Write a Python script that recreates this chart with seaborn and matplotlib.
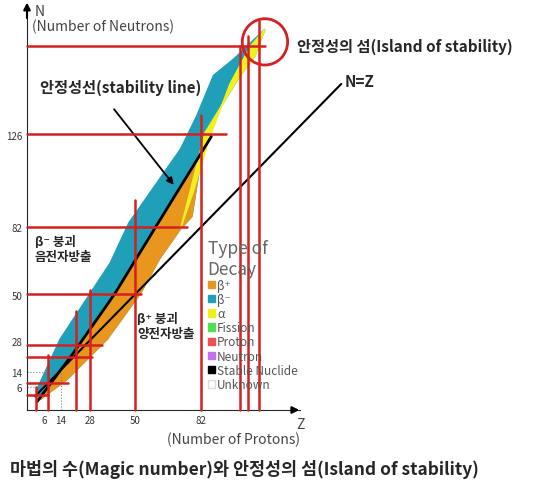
import numpy as np
import matplotlib
matplotlib.use("Agg")
import matplotlib.pyplot as plt
import seaborn as sns
from matplotlib.patches import Circle, Patch

sns.set_style("white")
plt.rcParams["font.family"] = ["Noto Sans CJK KR", "DejaVu Sans"]

# 핵종 띠 경계
upper_z = [2.5, 13.6, 38, 47, 72, 80, 88, 98, 113]
upper_n = [5, 28.6, 65, 84, 119, 135, 154, 162, 176]
lower_z = [4, 17, 36.5, 53, 62, 72, 77.6, 84, 101, 108, 113]
lower_n = [0, 9.5, 28.6, 51, 67, 81, 87, 127, 154, 163, 176]
stab_z = [2.5, 20, 40, 60, 87]
stab_n = [-1, 22, 50, 82, 125]
alpha_z = [72, 84, 101, 108, 113, 106, 96, 86, 78]
alpha_n = [81, 127, 154, 163, 176, 168, 150, 124, 98]

# 마법수 격자선 (빨간선)
h_n = [2, 8, 20, 26, 50, 82, 126, 168]
h_end = [8, 17.6, 29, 34, 53, 75, 94, 113]
v_z = [2, 8, 21.5, 28, 50, 82, 101, 105, 110]
v_top = [6, 21, 42, 52, 95, 135, 168, 173, 180]

tick_pos_z = [5.85, 14, 28, 50, 82]
tick_lab = ["6", "14", "28", "50", "82"]
tick_pos_n = [5.7, 13.3, 27.6, 49.5, 82, 125.7]
tick_lab_n = ["6", "14", "28", "50", "82", "126"]

decay_labels = ["β⁺", "β⁻", "α", "Fission", "Proton", "Neutron", "Stable Nuclide", "Unknown"]
decay_colors = ["#e8961e", "#1f9fb8", "#f0f020", "#50e050", "#f05050", "#c070f0", "#000000", "#ffffff"]

fig = plt.figure(figsize=(5.5, 4.85), dpi=100)
ax = fig.add_axes([27/550, 74/485, 273/550, 406/485])
ax.set_xlim(-2.4, 130)
ax.set_ylim(-5, 188)
for s in ["top", "right"]:
    ax.spines[s].set_visible(False)

# 띠: 파랑 전체 → 주황(안정선 아래) → 노랑(무거운 영역)
band = np.concatenate([np.column_stack([upper_z, upper_n]),
                       np.column_stack([lower_z, lower_n])[::-1]])
ax.fill(band[:, 0], band[:, 1], color=decay_colors[1], zorder=1)
lower_part = np.concatenate([np.column_stack([stab_z, stab_n]),
                             np.column_stack([lower_z[:8], lower_n[:8]])[::-1]])
ax.fill(lower_part[:, 0], lower_part[:, 1], color=decay_colors[0], zorder=2)
ax.fill(alpha_z, alpha_n, color=decay_colors[2], zorder=2)
ax.plot(stab_z, stab_n, color="black", lw=2, zorder=3)

# N=Z 선
ax.plot([1.5, 150], [1.5, 150], color="black", lw=1.5, clip_on=False, zorder=3)

for n, e in zip(h_n, h_end):
    ax.plot([-2.4, e], [n, n], color="#d42020", lw=1.8, zorder=4, clip_on=False)
for z, t in zip(v_z, v_top):
    ax.plot([z, z], [-5, t], color="#d42020", lw=1.8, zorder=4, clip_on=False)
ax.plot([-2.4, 14], [13.3, 13.3], ls=":", color="gray", lw=0.8)
ax.plot([14, 14], [-5, 13.3], ls=":", color="gray", lw=0.8)
ax.plot([-2.4, 5.85], [5.7, 5.7], ls=":", color="gray", lw=0.8)
ax.add_patch(Circle((113, 170), 11, fill=False, ec="#d42020", lw=2, clip_on=False, zorder=5))

ax.set_xticks(tick_pos_z, tick_lab, fontsize=7, color="#333")
ax.set_yticks(tick_pos_n, tick_lab_n, fontsize=7, color="#333")
ax.tick_params(length=0)
ax.annotate("", xy=(131, -5), xytext=(125, -5),
            arrowprops=dict(arrowstyle="-|>", color="black", lw=1.5), annotation_clip=False)
ax.annotate("", xy=(-2.4, 190), xytext=(-2.4, 180),
            arrowprops=dict(arrowstyle="-|>", color="black", lw=1.5), annotation_clip=False)

fig.text(35/550, 1-12/485, "N", fontsize=10, color="#444", va="center")
fig.text(32/550, 1-27/485, "(Number of Neutrons)", fontsize=10, color="#444", va="center")
fig.text(296/550, 1-425/485, "Z", fontsize=10, color="#444", va="center")
fig.text(300/550, 1-440/485, "(Number of Protons)", fontsize=10, color="#444", va="center", ha="right")
fig.text(297/550, 1-47/485, "안정성의 섬(Island of stability)", fontsize=11, weight="bold", va="center")
fig.text(345/550, 1-82/485, "N=Z", fontsize=11, weight="bold", va="center")
fig.text(40/550, 1-88/485, "안정성선(stability line)", fontsize=11, weight="bold", va="center")
fig.text(35/550, 1-250/485, "β⁻ 붕괴\n음전자방출", fontsize=9, weight="bold", va="center", linespacing=1.2)
fig.text(137/550, 1-327/485, "β⁺ 붕괴\n양전자방출", fontsize=9, weight="bold", va="center", linespacing=1.2)
fig.text(10/550, 1-470/485, "마법의 수(Magic number)와 안정성의 섬(Island of stability)",
         fontsize=12.5, weight="bold", va="center")
ax.annotate("", xy=(69.6, 101), xytext=(39, 139),
            arrowprops=dict(arrowstyle="-|>", color="black", lw=1.3))

handles = [Patch(fc=c, ec="#ddd" if c == "#ffffff" else c) for c in decay_colors]
leg = ax.legend(handles, decay_labels, title="Type of\nDecay", loc="upper left",
                bbox_to_anchor=(203/550, 1-235/485), bbox_transform=fig.transFigure,
                frameon=False, fontsize=8.5, handlelength=0.6, handleheight=0.6,
                handletextpad=0.2, labelspacing=0.1, borderaxespad=0, labelcolor="#555")
leg.get_title().set_fontsize(12.5)
leg.get_title().set_color("#666")
leg._legend_box.align = "left"

fig.savefig("out.png", dpi=100)
